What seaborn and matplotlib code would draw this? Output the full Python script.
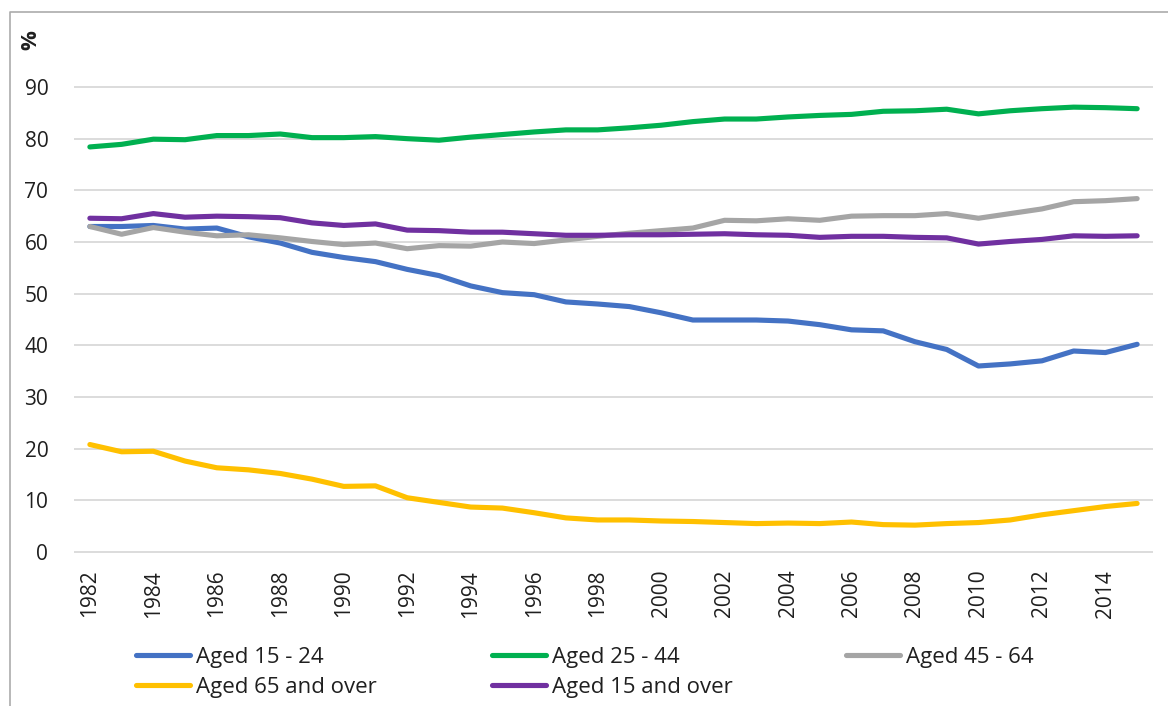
import numpy as np
import pandas as pd
import matplotlib
matplotlib.use("Agg")
import matplotlib.pyplot as plt
from matplotlib.lines import Line2D
import seaborn as sns

years = list(range(1982, 2016))
aged_15_24 = [63.0, 63.0, 63.2, 62.5, 62.7, 61.0, 59.8, 58.0, 57.0, 56.2, 54.7, 53.5, 51.5, 50.2, 49.8, 48.4, 48.0, 47.5,
              46.3, 44.9, 44.9, 44.9, 44.7, 44.0, 43.0, 42.8, 40.7, 39.2, 36.0, 36.4, 37.0, 38.9, 38.6, 40.2]
aged_25_44 = [78.4, 78.9, 79.9, 79.8, 80.6, 80.6, 80.9, 80.2, 80.2, 80.4, 80.0, 79.7, 80.3, 80.8, 81.3, 81.7, 81.7, 82.1,
              82.6, 83.3, 83.8, 83.8, 84.2, 84.5, 84.7, 85.3, 85.4, 85.7, 84.8, 85.4, 85.8, 86.1, 86.0, 85.8]
aged_45_64 = [63.0, 61.5, 62.8, 61.9, 61.2, 61.4, 60.8, 60.1, 59.5, 59.8, 58.7, 59.3, 59.2, 60.0, 59.7, 60.4, 61.1, 61.7,
              62.2, 62.7, 64.2, 64.1, 64.5, 64.2, 65.0, 65.1, 65.1, 65.5, 64.6, 65.5, 66.4, 67.8, 68.0, 68.4]
aged_65_over = [20.8, 19.4, 19.5, 17.6, 16.3, 15.9, 15.2, 14.1, 12.7, 12.8, 10.5, 9.6, 8.7, 8.5, 7.6, 6.6, 6.2, 6.2,
                6.0, 5.9, 5.7, 5.5, 5.6, 5.5, 5.8, 5.3, 5.2, 5.5, 5.7, 6.2, 7.2, 8.0, 8.8, 9.4]
aged_15_over = [64.6, 64.5, 65.5, 64.8, 65.0, 64.9, 64.7, 63.7, 63.2, 63.5, 62.3, 62.2, 61.9, 61.9, 61.6, 61.3, 61.3, 61.4,
                61.4, 61.5, 61.6, 61.4, 61.3, 60.9, 61.1, 61.1, 60.9, 60.8, 59.6, 60.1, 60.5, 61.2, 61.1, 61.2]

series_names = ["Aged 15 - 24", "Aged 25 - 44", "Aged 45 - 64", "Aged 65 and over", "Aged 15 and over"]
series_values = [aged_15_24, aged_25_44, aged_45_64, aged_65_over, aged_15_over]
colors = ["#4472C4", "#00B050", "#A5A5A5", "#FFC000", "#7030A0"]
y_ticks = [0, 10, 20, 30, 40, 50, 60, 70, 80, 90]
x_ticks = list(range(1982, 2015, 2))

df = pd.DataFrame({
    "year": np.tile(years, len(series_names)),
    "value": np.concatenate(series_values),
    "series": np.repeat(series_names, len(years)),
})

sns.set_theme(style="white")
plt.rcParams["font.family"] = ["Open Sans", "DejaVu Sans"]
text_color = "#1f1f1f"
FS = 15
LFS = 16

W, H = 1168, 706
fig = plt.figure(figsize=(W / 100, H / 100), dpi=100)
ylo, yhi = -0.5, 90.5
px_per_unit = (552 - 87) / 90
ax_bottom_px = 552 + 0.5 * px_per_unit
ax_top_px = 87 - 0.5 * px_per_unit
ax_left_px, ax_right_px = 74, 1153
ax = fig.add_axes([ax_left_px / W, 1 - ax_bottom_px / H, (ax_right_px - ax_left_px) / W,
                   (ax_bottom_px - ax_top_px) / H])

palette = dict(zip(series_names, colors))
sns.lineplot(data=df, x="year", y="value", hue="series", hue_order=series_names,
             palette=palette, linewidth=3.7, legend=False, ax=ax, sort=False)
for ln in ax.lines:
    ln.set_solid_capstyle("round")
    ln.set_solid_joinstyle("round")
    ln.set_zorder(3)

ax.set_xlim(1981.5, 2015.5)
ax.set_ylim(ylo, yhi)
ax.set_yticks(y_ticks)
ax.set_xticks(x_ticks)
ax.set_xticklabels([str(x) for x in x_ticks], rotation=90)
ax.tick_params(axis="y", length=0, pad=18.5, labelsize=FS, labelcolor=text_color)
ax.tick_params(axis="x", length=0, pad=11, labelsize=FS, labelcolor=text_color)
ax.grid(axis="y", color="#D9D9D9", linewidth=1.3)
ax.grid(axis="x", visible=False)
for s in ax.spines.values():
    s.set_visible(False)
ax.set_xlabel("")
ax.set_ylabel("")

fig.text(31 / W, 1 - 40 / H, "%", fontsize=16, fontweight="bold", color=text_color,
         ha="center", va="center", rotation=90)

# chart frame (cropped at right and bottom)
fig.add_artist(Line2D([10 / W, 10 / W, 1.0], [0.0, 1 - 12 / H, 1 - 12 / H],
                      transform=fig.transFigure, color="#ABABAB", linewidth=1.2))

def handle(c):
    return Line2D([], [], color=c, linewidth=3.7, solid_capstyle="round")

cols = [[0, 3], [1, 4], [2]]
col_x = [136, 492, 846]
for xi, idx in zip(col_x, cols):
    fig.legend(handles=[handle(colors[i]) for i in idx], labels=[series_names[i] for i in idx],
               loc="upper left", bbox_to_anchor=(xi / W, 1 - 647 / H), frameon=False,
               borderpad=0, borderaxespad=0, handlelength=2.45, handletextpad=0.25,
               labelspacing=0.4, fontsize=LFS, labelcolor=text_color)

fig.savefig("out.png", dpi=100)
